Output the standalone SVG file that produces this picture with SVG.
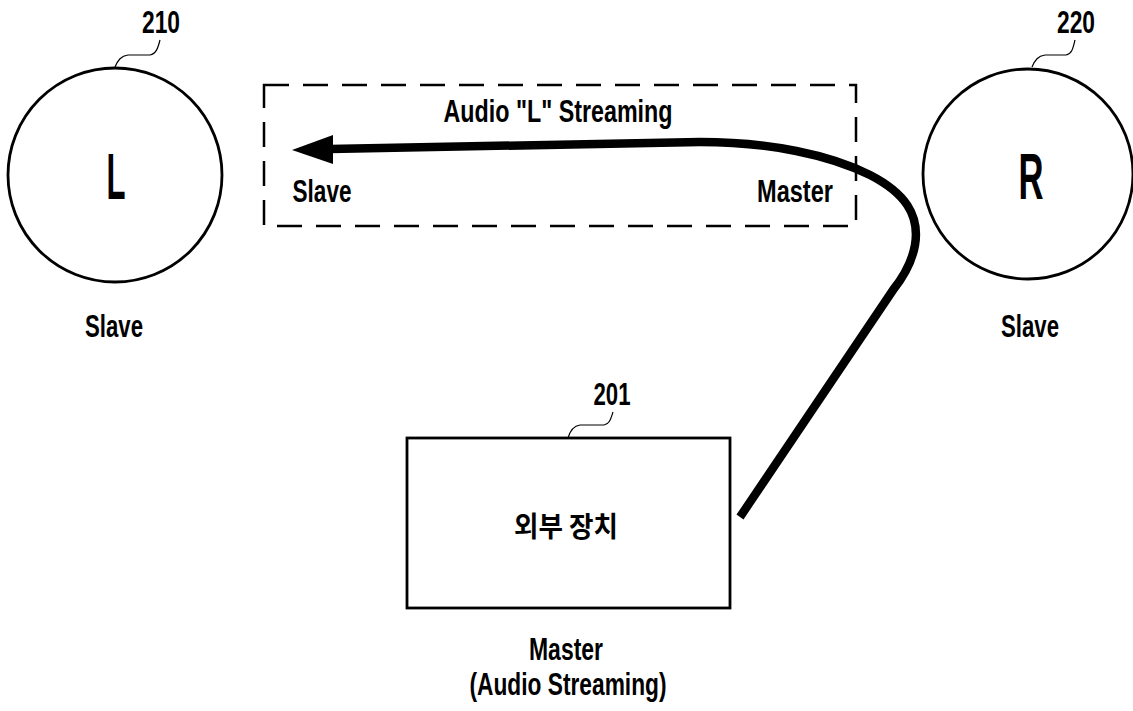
<svg xmlns="http://www.w3.org/2000/svg" width="1133" height="711" viewBox="0 0 1133 711">
<style>
text{font-family:"Liberation Sans",Arial,sans-serif;font-weight:bold;fill:#000;text-anchor:middle}
.lbl{font-size:32px}
.big{font-size:65px}
.kr{font-family:"Noto Sans CJK KR",sans-serif;font-size:28px;font-weight:bold}
.shape{fill:#fff;stroke:#000;stroke-width:2.8}
.lead{fill:none;stroke:#000;stroke-width:1.2}
</style>
<rect width="1133" height="711" fill="#fff"/>
<g id="node-210">
<circle class="shape" cx="115" cy="175" r="107"/>
<text class="big" x="116" y="199" textLength="19" lengthAdjust="spacingAndGlyphs">L</text>
<text class="lbl" x="114" y="337" textLength="58" lengthAdjust="spacingAndGlyphs">Slave</text>
<path class="lead" d="M115,67 C118,60 121,56 128,55 L150,55 C156,54 158,48 160,40"/>
<text class="lbl" x="161" y="33" textLength="38" lengthAdjust="spacingAndGlyphs">210</text>
</g>
<g id="node-220">
<circle class="shape" cx="1028" cy="174" r="105"/>
<text class="big" x="1031" y="199" textLength="25" lengthAdjust="spacingAndGlyphs">R</text>
<text class="lbl" x="1030" y="337" textLength="58" lengthAdjust="spacingAndGlyphs">Slave</text>
<path class="lead" d="M1032,67 C1035,60 1038,56 1045,55 L1066,55 C1072,54 1073,48 1075,40"/>
<text class="lbl" x="1076" y="33" textLength="38" lengthAdjust="spacingAndGlyphs">220</text>
</g>
<g id="node-201">
<rect class="shape" x="407" y="438" width="323" height="170" stroke-width="3"/>
<text class="kr" x="566" y="537" textLength="104" lengthAdjust="spacingAndGlyphs">외부 장치</text>
<text class="lbl" x="566" y="660" textLength="74" lengthAdjust="spacingAndGlyphs">Master</text>
<text class="lbl" x="568" y="695" textLength="197" lengthAdjust="spacingAndGlyphs">(Audio Streaming)</text>
<path class="lead" d="M568,438 C570,431 573,426 580,425 L604,425 C610,424 611,418 613,412"/>
<text class="lbl" x="612" y="405" textLength="37" lengthAdjust="spacingAndGlyphs">201</text>
</g>
<g id="link-box">
<rect x="264" y="85" width="592" height="141" fill="none" stroke="#000" stroke-width="2.5" stroke-dasharray="25 14"/>
<text class="lbl" x="558" y="122" textLength="229" lengthAdjust="spacingAndGlyphs">Audio "L" Streaming</text>
<text class="lbl" x="322" y="202" textLength="59" lengthAdjust="spacingAndGlyphs">Slave</text>
<text class="lbl" x="795" y="202" textLength="76" lengthAdjust="spacingAndGlyphs">Master</text>
</g>
<g id="connectors">
<path d="M330,149 L700,142 C770,142 830,155 870,175 C905,193 920,215 915,245 C912,262 905,275 893,290 L740,517" fill="none" stroke="#000" stroke-width="8.5"/>
<polygon points="292,150 333,135 333,164" fill="#000"/>
</g>
</svg>
